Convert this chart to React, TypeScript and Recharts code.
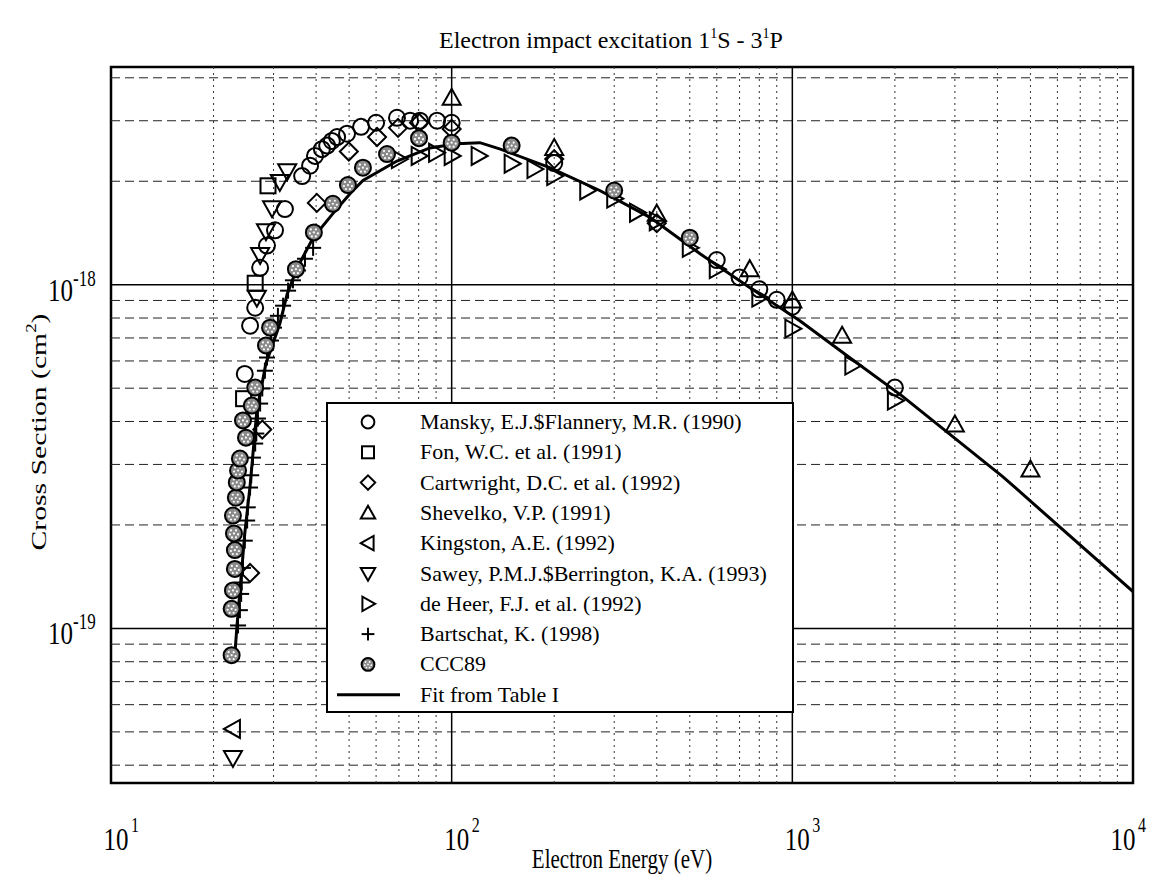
import React from "react";
import { ScatterChart, Scatter, XAxis, YAxis, ReferenceLine, ReferenceArea } from "recharts";

const FONT = '"Liberation Serif", "Times New Roman", serif';
const W = 1156;
const H = 877;

// axis ranges (energy in eV, cross section in cm^2)
const X_DOMAIN = [10, 10000];
const Y_DOMAIN = [3.55e-20, 4.3e-18];
const X_TICKS = [10, 100, 1000, 10000];
const Y_TICKS = [1e-19, 1e-18];
const X_MINOR = [20, 30, 40, 50, 60, 70, 80, 90, 200, 300, 400, 500, 600, 700, 800, 900, 2000, 3000, 4000, 5000, 6000, 7000, 8000, 9000];
const Y_MINOR = [4e-20, 5e-20, 6e-20, 7e-20, 8e-20, 9e-20, 2e-19, 3e-19, 4e-19, 5e-19, 6e-19, 7e-19, 8e-19, 9e-19, 2e-18, 3e-18, 4e-18];

// Mansky & Flannery (1990)
const manskyE = [24.7, 25.6, 26.5, 27.4, 28.7, 30.3, 32.4, 36.4, 38.4, 39.7, 41.6, 43.1, 44.5, 46.1, 49.3, 54.2, 60, 69.1, 75.5, 80.7, 90.6, 100, 200, 600, 700, 800, 900, 1000, 2000];
const manskyS = [5.5e-19, 7.6e-19, 8.57e-19, 1.12e-18, 1.3e-18, 1.44e-18, 1.66e-18, 2.07e-18, 2.22e-18, 2.37e-18, 2.48e-18, 2.54e-18, 2.62e-18, 2.69e-18, 2.75e-18, 2.88e-18, 2.96e-18, 3.06e-18, 3.0e-18, 3.0e-18, 3.0e-18, 2.96e-18, 2.26e-18, 1.18e-18, 1.05e-18, 9.7e-19, 9.04e-19, 8.63e-19, 5.02e-19];

// Fon et al. (1991)
const fonE = [24.5, 26.5, 28.9];
const fonS = [4.66e-19, 1.01e-18, 1.94e-18];

// Cartwright et al. (1992)
const cartE = [25.6, 27.8, 40.2, 49.9, 60.4, 69.6, 80.2, 100, 200, 400];
const cartS = [1.45e-19, 3.79e-19, 1.73e-18, 2.44e-18, 2.69e-18, 2.86e-18, 2.96e-18, 2.84e-18, 2.32e-18, 1.51e-18];

// Shevelko (1991)
const shevE = [100, 200, 400, 750, 1000, 1400, 3000, 5000];
const shevS = [3.5e-18, 2.5e-18, 1.61e-18, 1.11e-18, 8.99e-19, 7.1e-19, 3.92e-19, 2.9e-19];

// Kingston (1992)
const kingE = [22.8];
const kingS = [5.1e-20];

// Sawey & Berrington (1993)
const sawE = [22.8, 26.8, 27.4, 28.5, 29.7, 31.3, 32.9];
const sawS = [4.2e-20, 9.17e-19, 1.22e-18, 1.43e-18, 1.67e-18, 1.99e-18, 2.14e-18];

// de Heer et al. (1992)
const heerE = [70, 80, 90, 100, 120, 150, 175, 200, 250, 300, 350, 400, 500, 600, 800, 1000, 1500, 2000];
const heerS = [2.32e-18, 2.37e-18, 2.42e-18, 2.37e-18, 2.37e-18, 2.25e-18, 2.17e-18, 2.07e-18, 1.88e-18, 1.78e-18, 1.62e-18, 1.53e-18, 1.28e-18, 1.11e-18, 9.17e-19, 7.45e-19, 5.82e-19, 4.6e-19];

// Bartschat (1998)
const bartE = [23.6, 23.9, 24.1, 24.2, 24.4, 24.7, 25.1, 25.2, 25.6, 25.8, 26.1, 26.5, 26.7, 27.0, 27.4, 27.8, 28.3, 28.7, 29.5, 30.1, 30.9, 32.0, 33.1, 34.2, 35.4, 37.1, 39.2];
const bartS = [1.02e-19, 1.13e-19, 1.26e-19, 1.36e-19, 1.5e-19, 1.8e-19, 2.06e-19, 2.25e-19, 2.57e-19, 2.79e-19, 3.14e-19, 3.45e-19, 3.69e-19, 4.08e-19, 4.51e-19, 4.99e-19, 5.62e-19, 6.14e-19, 6.88e-19, 7.5e-19, 8.12e-19, 8.69e-19, 9.61e-19, 1.03e-18, 1.1e-18, 1.19e-18, 1.28e-18];

// CCC89
const cccE = [22.6, 22.6, 22.8, 23.1, 23.1, 22.96, 22.8, 23.25, 23.4, 23.6, 23.9, 24.9, 24.4, 25.9, 26.5, 28.5, 29.3, 34.9, 39.4, 44.8, 49.6, 54.9, 64.6, 80.2, 100, 150, 300, 500];
const cccS = [8.36e-20, 1.14e-19, 1.29e-19, 1.49e-19, 1.69e-19, 1.89e-19, 2.13e-19, 2.4e-19, 2.66e-19, 2.88e-19, 3.12e-19, 3.59e-19, 4.03e-19, 4.45e-19, 5.02e-19, 6.66e-19, 7.5e-19, 1.11e-18, 1.42e-18, 1.72e-18, 1.95e-18, 2.19e-18, 2.4e-18, 2.67e-18, 2.59e-18, 2.54e-18, 1.88e-18, 1.37e-18];

// Fit from Table I
const fitE = [23.1, 23.4, 24.7, 25.6, 26.8, 28.5, 31.3, 32.9, 35.2, 39.2, 44.8, 50.3, 54.9, 69.1, 86.3, 103.6, 121, 139, 194, 272, 382, 536, 751, 1052, 1475, 2098, 4153, 10000];
const fitS = [8.4e-20, 1.0e-19, 1.89e-19, 2.6e-19, 4.3e-19, 5.9e-19, 7.7e-19, 9.4e-19, 1.12e-18, 1.37e-18, 1.61e-18, 1.84e-18, 2.01e-18, 2.29e-18, 2.5e-18, 2.57e-18, 2.59e-18, 2.48e-18, 2.19e-18, 1.88e-18, 1.57e-18, 1.23e-18, 9.8e-19, 7.85e-19, 6.13e-19, 4.75e-19, 2.76e-19, 1.28e-19];

const zip = (xs: number[], ys: number[]) => xs.map((x, i) => ({ x, y: ys[i] }));

type Kind = "circle" | "square" | "diamond" | "up" | "left" | "down" | "right" | "plus" | "ccc";

const SW = 2;

function marker(kind: Kind, cx: number, cy: number, k = 1) {
  const pts = (a: number[][]) => a.map(([x, y]) => `${cx + x * k},${cy + y * k}`).join(" ");
  switch (kind) {
    case "circle":
      return <circle cx={cx} cy={cy} r={8 * k} fill="none" stroke="#000" strokeWidth={SW} />;
    case "square":
      return <rect x={cx - 7.5 * k} y={cy - 7.5 * k} width={15 * k} height={15 * k} fill="none" stroke="#000" strokeWidth={SW} />;
    case "diamond":
      return <polygon points={pts([[0, -9], [9, 0], [0, 9], [-9, 0]])} fill="none" stroke="#000" strokeWidth={SW} />;
    case "up":
      return <polygon points={pts([[0, -9], [9, 7], [-9, 7]])} fill="none" stroke="#000" strokeWidth={SW} />;
    case "down":
      return <polygon points={pts([[-9, -7], [9, -7], [0, 9]])} fill="none" stroke="#000" strokeWidth={SW} />;
    case "left":
      return <polygon points={pts([[-9, 0], [7, -9], [7, 9]])} fill="none" stroke="#000" strokeWidth={SW} />;
    case "right":
      return <polygon points={pts([[9, 0], [-7, -9], [-7, 9]])} fill="none" stroke="#000" strokeWidth={SW} />;
    case "plus":
      return (
        <g stroke="#000" strokeWidth={SW}>
          <line x1={cx - 8 * k} y1={cy} x2={cx + 8 * k} y2={cy} />
          <line x1={cx} y1={cy - 8 * k} x2={cx} y2={cy + 8 * k} />
        </g>
      );
    case "ccc":
      return (
        <g>
          <circle cx={cx} cy={cy} r={8 * k} fill="#8a8a8a" stroke="#000" strokeWidth={SW} />
          {[[-3, -3], [2, -3], [-4, 1], [0, 0], [4, 1], [-2, 4], [2, 4]].map(([dx, dy], i) => (
            <circle key={i} cx={cx + dx * k} cy={cy + dy * k} r={1.1 * k} fill="#fff" />
          ))}
        </g>
      );
  }
}

const SERIES: { name: string; kind: Kind; data: { x: number; y: number }[] }[] = [
  { name: "Mansky, E.J.$Flannery, M.R. (1990)", kind: "circle", data: zip(manskyE, manskyS) },
  { name: "Fon, W.C. et al. (1991)", kind: "square", data: zip(fonE, fonS) },
  { name: "Cartwright, D.C. et al. (1992)", kind: "diamond", data: zip(cartE, cartS) },
  { name: "Shevelko, V.P. (1991)", kind: "up", data: zip(shevE, shevS) },
  { name: "Kingston, A.E. (1992)", kind: "left", data: zip(kingE, kingS) },
  { name: "Sawey, P.M.J.$Berrington, K.A. (1993)", kind: "down", data: zip(sawE, sawS) },
  { name: "de Heer, F.J. et al. (1992)", kind: "right", data: zip(heerE, heerS) },
  { name: "Bartschat, K. (1998)", kind: "plus", data: zip(bartE, bartS) },
  { name: "CCC89", kind: "ccc", data: zip(cccE, cccS) },
];

const fitData = zip(fitE, fitS);

// tick labels are drawn slightly condensed (taller than wide), like the original typesetting
const STRETCH = 1.3;

function XTick(props: any) {
  const { x, payload } = props;
  const exp = Math.round(Math.log10(payload.value));
  const cx = payload.value >= 10000 ? x - 10 : x + 5;
  return (
    <g fontFamily={FONT} fill="#000">
      <text transform={`translate(${cx},850) scale(1,${STRETCH})`} textAnchor="middle" fontSize={25}>10</text>
      <text transform={`translate(${cx + 15},832) scale(1,${STRETCH})`} textAnchor="start" fontSize={16}>{exp}</text>
    </g>
  );
}

function YTick(props: any) {
  const { y, payload } = props;
  const exp = Math.round(Math.log10(payload.value));
  return (
    <g fontFamily={FONT} fill="#000">
      <text transform={`translate(73,${y + 16}) scale(1,${STRETCH})`} textAnchor="end" fontSize={25}>10</text>
      <text transform={`translate(73,${y + 1}) scale(1,${STRETCH})`} textAnchor="start" fontSize={17}>{exp}</text>
    </g>
  );
}

function Overlay() {
  const lx = 327;
  const ly = 403;
  const row = 30.3;
  return (
    <svg width={W} height={H} style={{ position: "absolute", left: 0, top: 0, pointerEvents: "none" }} fontFamily={FONT}>
      <text x={611} y={48} textAnchor="middle" fontSize={24}>
        Electron impact excitation 1<tspan dy={-10} fontSize={14}>1</tspan>
        <tspan dy={10}>S - 3</tspan>
        <tspan dy={-10} fontSize={14}>1</tspan>
        <tspan dy={10}>P</tspan>
      </text>
      <text transform={`translate(622,868) scale(1,1.25)`} textAnchor="middle" fontSize={21}>Electron Energy (eV)</text>
      <text transform="translate(46,432) rotate(-90) scale(1.35,1)" textAnchor="middle" fontSize={22}>
        Cross Section (cm<tspan dy={-10} fontSize={14}>2</tspan>
        <tspan dy={10}>)</tspan>
      </text>
      <rect x={lx} y={ly} width={466} height={309} fill="#fff" stroke="#000" strokeWidth={2} />
      {SERIES.map((s, i) => {
        const cy = ly + 19 + i * row;
        return (
          <g key={s.name}>
            {marker(s.kind, lx + 41, cy, 0.8)}
            <text x={lx + 93} y={cy + 7} fontSize={22}>{s.name}</text>
          </g>
        );
      })}
      <line x1={lx + 10} y1={ly + 19 + 9 * row} x2={lx + 73} y2={ly + 19 + 9 * row} stroke="#000" strokeWidth={3} />
      <text x={lx + 93} y={ly + 26 + 9 * row} fontSize={22}>Fit from Table I</text>
    </svg>
  );
}

export default function App() {
  return (
    <div style={{ position: "fixed", left: 0, top: 0, width: W, height: H, background: "#fff", overflow: "hidden" }}>
      <ScatterChart width={W} height={H} margin={{ top: 67, right: 23, bottom: 34, left: 21 }}>
        <XAxis
          type="number"
          dataKey="x"
          scale="log"
          domain={X_DOMAIN}
          ticks={X_TICKS}
          allowDataOverflow
          axisLine={false}
          tickLine={false}
          height={60}
          tick={(p: any) => <XTick {...p} />}
        />
        <YAxis
          type="number"
          dataKey="y"
          scale="log"
          domain={Y_DOMAIN}
          ticks={Y_TICKS}
          allowDataOverflow
          axisLine={false}
          tickLine={false}
          width={90}
          tick={(p: any) => <YTick {...p} />}
        />
        {X_MINOR.map((v) => (
          <ReferenceLine key={`vx${v}`} x={v} stroke="#333" strokeWidth={1} strokeDasharray="2 4" />
        ))}
        {Y_MINOR.map((v) => (
          <ReferenceLine key={`hy${v}`} y={v} stroke="#222" strokeWidth={1} strokeDasharray="9 5" />
        ))}
        {[100, 1000].map((v) => (
          <ReferenceLine key={`mx${v}`} x={v} stroke="#000" strokeWidth={1.5} />
        ))}
        {Y_TICKS.map((v) => (
          <ReferenceLine key={`my${v}`} y={v} stroke="#000" strokeWidth={1.5} />
        ))}
        <ReferenceArea x1={X_DOMAIN[0]} x2={X_DOMAIN[1]} y1={Y_DOMAIN[0]} y2={Y_DOMAIN[1]} fill="none" stroke="#000" strokeWidth={2.5} />
        <Scatter
          name="Fit from Table I"
          data={fitData}
          line={{ stroke: "#000", strokeWidth: 3 }}
          lineType="joint"
          shape={() => <g />}
          isAnimationActive={false}
        />
        {SERIES.map((s) => (
          <Scatter
            key={s.name}
            name={s.name}
            data={s.data}
            shape={(p: any) => marker(s.kind, p.cx, p.cy)}
            isAnimationActive={false}
          />
        ))}
      </ScatterChart>
      <Overlay />
    </div>
  );
}
